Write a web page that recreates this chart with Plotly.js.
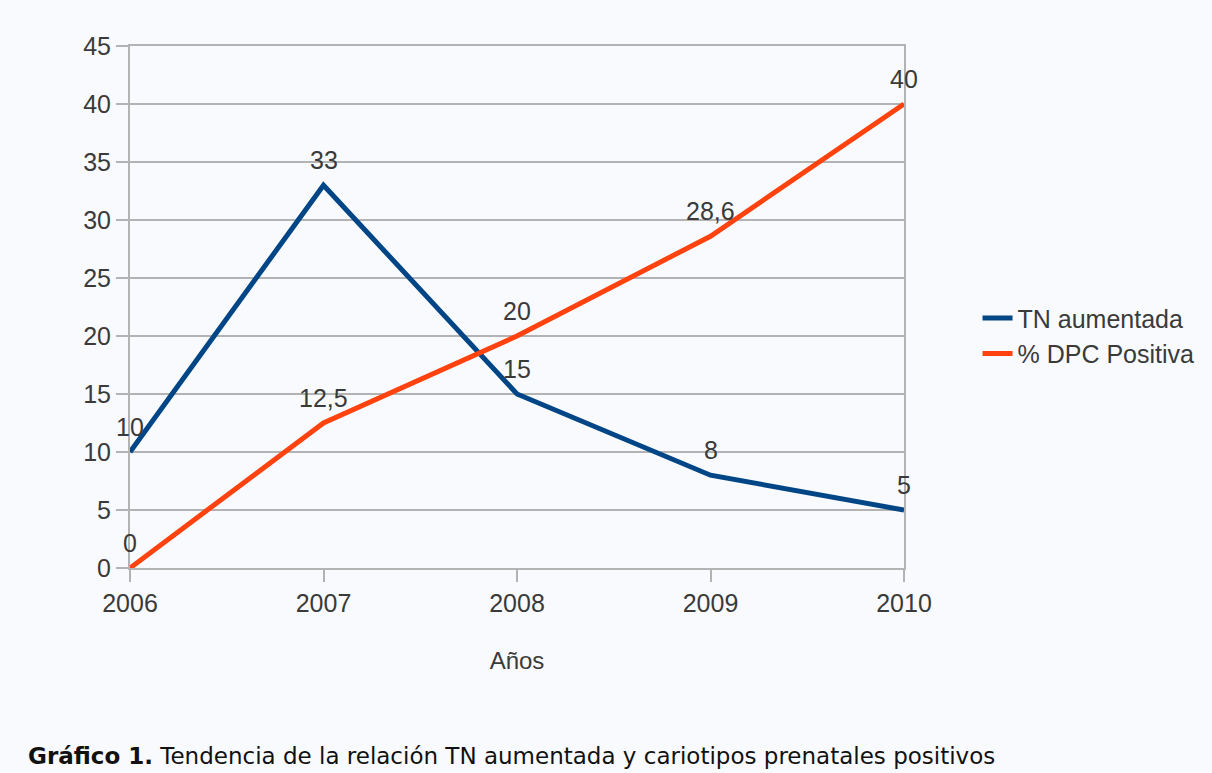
<!DOCTYPE html>
<html>
<head>
<meta charset="utf-8">
<script src="https://cdn.plot.ly/plotly-3.0.1.min.js"></script>
<style>html,body{margin:0;padding:0;background:#f8fafd;}#chart{width:1212px;height:773px;}</style>
</head>
<body>
<div id="chart"></div>
<script>
const years = [2006, 2007, 2008, 2009, 2010];
const tnAumentada = [10, 33, 15, 8, 5];
const dpcPositiva = [0, 12.5, 20, 28.6, 40];
const tnLabels = ["10", "33", "15", "8", "5"];
const dpcLabels = ["0", "12,5", "20", "28,6", "40"];
const yTicks = [0, 5, 10, 15, 20, 25, 30, 35, 40, 45];

const font = "Liberation Sans, Arial, sans-serif";
const traces = [
  {x: years, y: tnAumentada, name: "TN aumentada", mode: "lines",
   line: {color: "#004586", width: 5}, cliponaxis: false},
  {x: years, y: dpcPositiva, name: "% DPC Positiva", mode: "lines",
   line: {color: "#ff420e", width: 5}, cliponaxis: false}
];
const labelAnn = [];
[[tnAumentada, tnLabels], [dpcPositiva, dpcLabels]].forEach(([vals, labs]) => {
  vals.forEach((v, i) => labelAnn.push({
    x: years[i], y: v, xref: "x", yref: "y", text: labs[i], showarrow: false,
    xanchor: "center", yanchor: "middle", yshift: 25,
    font: {family: font, size: 25, color: "#3a3a3a"}
  }));
});
const layout = {
  width: 1212, height: 773,
  paper_bgcolor: "#f8fafd", plot_bgcolor: "#f8fafd",
  margin: {l: 130, r: 305, t: 46, b: 205},
  font: {family: font, size: 25, color: "#3a3a3a"},
  showlegend: true,
  legend: {x: 1.095, y: 0.445, xanchor: "left", yanchor: "middle", itemwidth: 30,
           font: {family: font, size: 25, color: "#3a3a3a"}, bgcolor: "rgba(0,0,0,0)", tracegroupgap: 0},
  xaxis: {range: [2006, 2010], tickvals: years, ticktext: years.map(String), showgrid: false,
          zeroline: false, showline: true, linecolor: "#b3b3b3", linewidth: 2, mirror: true,
          ticks: "outside", ticklen: 12, tickwidth: 2, tickcolor: "#b3b3b3",
          tickfont: {family: font, size: 25, color: "#3a3a3a"},
          title: {text: "Años", font: {family: font, size: 24, color: "#3a3a3a"}, standoff: 36}},
  yaxis: {range: [0, 45], tickvals: yTicks, showgrid: true, gridcolor: "#b3b3b3", gridwidth: 2,
          zeroline: false, showline: true, linecolor: "#b3b3b3", linewidth: 2, mirror: true,
          ticks: "outside", ticklen: 12, tickwidth: 2, tickcolor: "#b3b3b3",
          tickfont: {family: font, size: 25, color: "#3a3a3a"}},
  annotations: labelAnn.concat([
    {xref: "paper", yref: "paper", x: -0.135, y: -0.36, xanchor: "left", yanchor: "middle",
     showarrow: false, align: "left",
     text: "<b>Gráfico 1.</b> Tendencia de la relación TN aumentada y cariotipos prenatales positivos",
     font: {family: "DejaVu Sans, sans-serif", size: 23, color: "#111"}}
  ])
};
Plotly.newPlot("chart", traces, layout, {displayModeBar: false, staticPlot: true});
</script>
</body>
</html>
